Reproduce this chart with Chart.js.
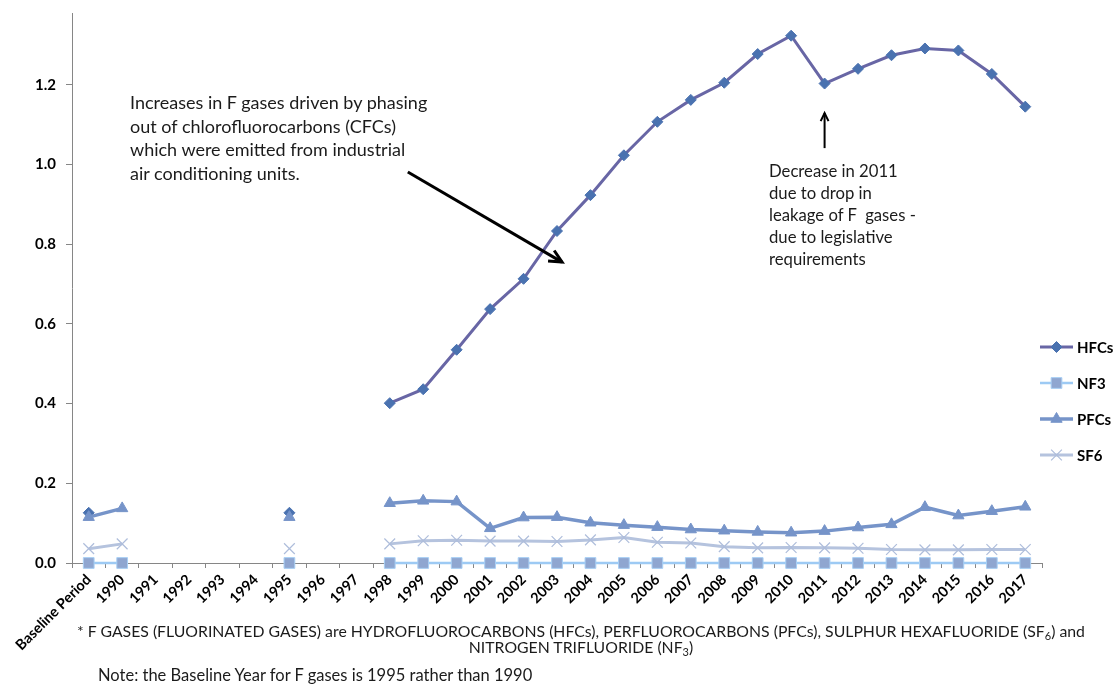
<!DOCTYPE html>
<html>
<head>
<meta charset="utf-8">
<script src="https://cdn.jsdelivr.net/npm/chart.js@4.4.1/dist/chart.umd.min.js"></script>
<style>
  html, body { margin: 0; padding: 0; background: #fff; }
  #wrap { position: relative; width: 1114px; height: 684px; font-family: Lato, "Open Sans", sans-serif; color: #1b1b1b; }
  #c { position: absolute; left: 0; top: 0; }
  .txt { position: absolute; white-space: nowrap; }
  sub { font-size: 11px; line-height: 0; vertical-align: -3px; }
</style>
</head>
<body>
<div id="wrap">
  <canvas id="c" width="1114" height="684"></canvas>
  <div class="txt" style="left:130px; top:91px; font-size:18px; line-height:23.7px;">Increases in F gases driven by phasing<br>out of chlorofluorocarbons (CFCs)<br>which were emitted from industrial<br>air conditioning units.</div>
  <div class="txt" style="left:769px; top:160px; font-size:16.7px; line-height:22px;">Decrease in 2011<br>due to drop in<br>leakage of F&nbsp; gases -<br>due to legislative<br>requirements</div>
  <div class="txt" style="left:0; width:1162px; top:623px; font-size:15.8px; text-align:center; line-height:16px;">* F GASES (FLUORINATED GASES) are HYDROFLUOROCARBONS (HFCs), PERFLUOROCARBONS (PFCs), SULPHUR HEXAFLUORIDE (SF<sub>6</sub>) and<br>NITROGEN TRIFLUORIDE (NF<sub>3</sub>)</div>
  <div class="txt" style="left:98px; top:665px; font-size:16.5px;">Note: the Baseline Year for F gases is 1995 rather than 1990</div>
</div>
<script>
// Categories along the x axis
const categories = ['Baseline Period', '1990', '1991', '1992', '1993', '1994', '1995', '1996', '1997',
  '1998', '1999', '2000', '2001', '2002', '2003', '2004', '2005', '2006', '2007', '2008',
  '2009', '2010', '2011', '2012', '2013', '2014', '2015', '2016', '2017'];

// Emissions by gas (no inventory values for 1991-1994, 1996, 1997)
const hfcs = [0.126, null, null, null, null, null, 0.126, null, null,
  0.401, 0.436, 0.535, 0.637, 0.713, 0.833, 0.923, 1.023, 1.107, 1.162, 1.205,
  1.277, 1.323, 1.203, 1.240, 1.274, 1.291, 1.286, 1.227, 1.145];
const nf3 = [0, 0, null, null, null, null, 0, null, null,
  0, 0, 0, 0, 0, 0, 0, 0, 0, 0, 0,
  0, 0, 0, 0, 0, 0, 0, 0, 0];
const pfcs = [0.115, 0.137, null, null, null, null, 0.115, null, null,
  0.150, 0.156, 0.154, 0.087, 0.114, 0.115, 0.101, 0.095, 0.090, 0.084, 0.081,
  0.078, 0.076, 0.080, 0.089, 0.097, 0.140, 0.119, 0.130, 0.141];
const sf6 = [0.036, 0.048, null, null, null, null, 0.036, null, null,
  0.048, 0.056, 0.057, 0.055, 0.055, 0.054, 0.058, 0.064, 0.052, 0.050, 0.041,
  0.038, 0.039, 0.038, 0.037, 0.034, 0.033, 0.033, 0.034, 0.034];

// Y axis range and tick labels
const yMin = 0;
const yMax = 1.38;
const yStep = 0.2;

const FONT = 'Lato, "Open Sans", sans-serif';

const datasets = [
  { label: 'HFCs', data: hfcs, borderColor: '#6866a5', borderWidth: 3,
    pointStyle: 'rectRot', pointRadius: 5.5, pointBackgroundColor: '#4a72b0', pointBorderColor: '#4a72b0', pointBorderWidth: 1, order: 1 },
  { label: 'NF3', data: nf3, borderColor: '#9dcaf4', borderWidth: 2.5,
    pointStyle: 'rect', pointRadius: 7.6, pointBackgroundColor: '#8fa6d0', pointBorderColor: '#a9d0f5', pointBorderWidth: 1, order: 0 },
  { label: 'PFCs', data: pfcs, borderColor: '#7694c9', borderWidth: 3.5,
    pointStyle: 'triangle', pointRadius: 6.5, pointBackgroundColor: '#7694c9', pointBorderColor: '#7694c9', pointBorderWidth: 1, order: 0 },
  { label: 'SF6', data: sf6, borderColor: '#b5c3de', borderWidth: 3,
    pointStyle: 'crossRot', pointRadius: 7.6, pointBackgroundColor: '#aebddb', pointBorderColor: '#aebddb', pointBorderWidth: 1.2, order: 2 }
];
datasets.forEach(d => { d.tension = 0; d.spanGaps = false; d.clip = false; d.fill = false; d.pointHoverRadius = d.pointRadius; });

// Legend at the right: a short line with the series marker, then the name
const sideLegend = {
  id: 'sideLegend',
  afterDraw(chart) {
    const ctx = chart.ctx;
    const x0 = 1040, x1 = 1073, ys = [347, 383, 419, 455];
    chart.data.datasets.forEach((ds, i) => {
      const y = ys[i];
      ctx.save();
      ctx.strokeStyle = ds.borderColor;
      ctx.lineWidth = ds.borderWidth;
      ctx.beginPath(); ctx.moveTo(x0, y); ctx.lineTo(x1, y); ctx.stroke();
      ctx.fillStyle = ds.pointBackgroundColor;
      ctx.strokeStyle = ds.pointBorderColor;
      ctx.lineWidth = ds.pointBorderWidth;
      Chart.helpers.drawPoint(ctx, { pointStyle: ds.pointStyle, radius: ds.pointRadius, rotation: 0, borderWidth: ds.pointBorderWidth }, (x0 + x1) / 2, y);
      ctx.fillStyle = '#000';
      ctx.font = 'bold 15px ' + FONT;
      ctx.textAlign = 'left'; ctx.textBaseline = 'middle';
      ctx.fillText(ds.label, x1 + 4, y + 1);
      ctx.restore();
    });
  }
};

// Annotation arrows, placed in axis units (category index, value)
const arrows = [
  { from: [9.54, 0.981], to: [14.15, 0.755], width: 3, head: 14 },
  { from: [22, 1.041], to: [22, 1.129], width: 2, head: 9 }
];
const arrowPlugin = {
  id: 'arrows',
  afterDraw(chart) {
    const ctx = chart.ctx, xs = chart.scales.x, ys = chart.scales.y;
    const px = v => xs.getPixelForValue(v);
    arrows.forEach(a => {
      const x1 = px(a.from[0]), y1 = ys.getPixelForValue(a.from[1]);
      const x2 = px(a.to[0]), y2 = ys.getPixelForValue(a.to[1]);
      const ang = Math.atan2(y2 - y1, x2 - x1);
      ctx.save();
      ctx.strokeStyle = '#000'; ctx.lineWidth = a.width; ctx.lineCap = 'butt';
      ctx.beginPath(); ctx.moveTo(x1, y1); ctx.lineTo(x2, y2); ctx.stroke();
      ctx.beginPath();
      ctx.moveTo(x2 - a.head * Math.cos(ang - 0.45), y2 - a.head * Math.sin(ang - 0.45));
      ctx.lineTo(x2, y2);
      ctx.lineTo(x2 - a.head * Math.cos(ang + 0.45), y2 - a.head * Math.sin(ang + 0.45));
      ctx.stroke();
      ctx.restore();
    });
  }
};

new Chart(document.getElementById('c'), {
  type: 'line',
  data: { labels: categories, datasets },
  options: {
    responsive: false,
    animation: false,
    events: [],
    layout: { padding: { top: 13, right: 72, left: 0, bottom: 0 } },
    plugins: { legend: { display: false }, tooltip: { enabled: false } },
    scales: {
      x: {
        type: 'category',
        offset: true,
        grid: { offset: true, drawOnChartArea: false, drawTicks: true, tickLength: 5, color: '#868686', lineWidth: 1 },
        border: { color: '#868686', width: 1 },
        ticks: {
          autoSkip: false, maxRotation: 45, minRotation: 45, padding: 3,
          color: '#000', font: { family: FONT, size: 14.5, weight: 'bold' }
        },
        afterFit(scale) { scale.height = 121; scale.paddingLeft = 0; scale.paddingRight = 0; }
      },
      y: {
        min: yMin, max: yMax,
        grid: { drawOnChartArea: false, drawTicks: true, tickLength: 6, color: '#868686', lineWidth: 1 },
        border: { color: '#868686', width: 1 },
        ticks: {
          stepSize: yStep, padding: 10, color: '#000',
          font: { family: FONT, size: 15, weight: 'bold' },
          callback: v => v.toFixed(1)
        },
        afterBuildTicks(scale) {
          scale.ticks = scale.ticks.filter(t => Math.abs(t.value / yStep - Math.round(t.value / yStep)) < 1e-6);
        },
        afterFit(scale) { scale.width = 72; scale.paddingTop = 0; scale.paddingBottom = 0; }
      }
    }
  },
  plugins: [sideLegend, arrowPlugin]
});
</script>
</body>
</html>
